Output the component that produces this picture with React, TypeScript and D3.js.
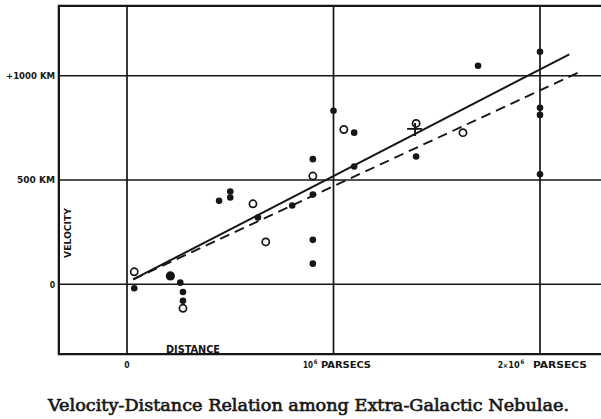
import React from 'react';
import * as d3 from 'd3';

// Individual nebulae (black discs): distance in 10^6 parsecs, velocity in km/s
const distIndiv = [0.035, 0.258, 0.271, 0.271, 0.446, 0.5, 0.5, 0.634, 0.8, 0.9, 0.9, 0.9, 0.9, 1.0, 1.1, 1.1, 1.4, 1.7, 2.0, 2.0, 2.0, 2.0];
const velIndiv = [-19, 8, -37, -79, 400, 445, 416, 320, 378, 430, 600, 213, 99, 832, 727, 565, 613, 1048, 1115, 846, 812, 527];
// overlapping pair drawn as one larger disc
const distDouble = [0.21];
const velDouble = [40];
// Groups (open circles)
const distGroup = [0.035, 0.271, 0.61, 0.672, 0.9, 1.05, 1.4, 1.627];
const velGroup = [60, -115, 386, 203, 519, 742, 771, 727];
// Mean of the 22 nebulae (cross)
const distMean = [1.395];
const velMean = [745];
// Fitted lines: [individual (full), groups (broken)]
const fitSlope = [511, 460];
const fitIntercept = [8, 10];
const fitStart = [0.03, 0.03];
const fitEnd = [2.142, 2.207];

const xTicks = [0, 1, 2];
const yTicks = [0, 500, 1000];
const yTickLabels = ['0', '500 KM', '+1000 KM'];
const xDomainMin = -0.33;
const yDomain = [-335, 1335];

const W = 601;
const H = 419;

export default function App() {
  const x = d3.scaleLinear().domain([0, 2]).range([127, 540]);
  const y = d3.scaleLinear().domain([0, 1000]).range([284.3, 75.7]);
  const left = x(xDomainMin);
  const top = y(yDomain[1]);
  const bottom = y(yDomain[0]);
  const ink = '#161616';
  const line = d3.line<[number, number]>().x(d => x(d[0])).y(d => y(d[1]));
  const sans = '"DejaVu Sans Condensed", "Liberation Sans Narrow", "DejaVu Sans", sans-serif';

  return (
    <svg width={W} height={H} style={{ position: 'absolute', left: 0, top: 0, background: '#fff' }}>
      <rect x={0} y={0} width={W} height={H} fill="#fff" />
      {/* grid */}
      {xTicks.map(t => (
        <line key={'gx' + t} x1={x(t)} x2={x(t)} y1={top} y2={bottom} stroke={ink} strokeWidth={1.7} />
      ))}
      {yTicks.map(t => (
        <line key={'gy' + t} x1={left} x2={W} y1={y(t)} y2={y(t)} stroke={ink} strokeWidth={1.6} />
      ))}
      {/* frame */}
      <path d={`M${W},${top}H${left}V${bottom}H${W}`} fill="none" stroke={ink} strokeWidth={2.3} />

      {/* fit lines */}
      {fitSlope.map((k, i) => (
        <path
          key={'fit' + i}
          d={line([
            [fitStart[i], fitIntercept[i] + k * fitStart[i]],
            [fitEnd[i], fitIntercept[i] + k * fitEnd[i]],
          ]) || ''}
          fill="none"
          stroke={ink}
          strokeWidth={i === 0 ? 2 : 1.9}
          strokeDasharray={i === 0 ? undefined : '10,6'}
        />
      ))}

      {/* points */}
      {distIndiv.map((d, i) => (
        <circle key={'p' + i} cx={x(d)} cy={y(velIndiv[i])} r={3.3} fill={ink} />
      ))}
      {distDouble.map((d, i) => (
        <circle key={'pd' + i} cx={x(d)} cy={y(velDouble[i])} r={4.6} fill={ink} />
      ))}
      {distGroup.map((d, i) => (
        <circle key={'g' + i} cx={x(d)} cy={y(velGroup[i])} r={3.6} fill="#fff" stroke={ink} strokeWidth={1.7} />
      ))}
      {distMean.map((d, i) => (
        <path
          key={'m' + i}
          d={`M${x(d) - 8},${y(velMean[i])}H${x(d) + 7}M${x(d)},${y(velMean[i]) - 6}V${y(velMean[i]) + 7}`}
          stroke={ink}
          strokeWidth={1.9}
          fill="none"
        />
      ))}

      {/* y tick labels */}
      {yTicks.map((t, i) => (
        <text
          key={'yl' + t}
          x={55}
          y={y(t) + 3.2}
          textAnchor="end"
          fontFamily={sans}
          fontWeight="bold"
          fontSize={8.5}
          fill={ink}
          textLength={i === 0 ? undefined : i === 1 ? 38 : 49}
          lengthAdjust="spacingAndGlyphs"
        >
          {yTickLabels[i]}
        </text>
      ))}
      <text
        transform={`translate(70.7,233) rotate(-90)`}
        textAnchor="middle"
        fontFamily={sans}
        fontWeight="bold"
        fontSize={9.5}
        fill={ink}
        textLength={50}
        lengthAdjust="spacingAndGlyphs"
      >
        VELOCITY
      </text>
      <text x={166} y={352.7} fontFamily={sans} fontWeight="bold" fontSize={10} fill={ink} textLength={54} lengthAdjust="spacingAndGlyphs">
        DISTANCE
      </text>

      {/* x tick labels */}
      <text x={x(xTicks[0])} y={367.7} textAnchor="middle" fontFamily={sans} fontWeight="bold" fontSize={8.5} fill={ink}>
        0
      </text>
      <text y={367.7} fontFamily={sans} fontWeight="bold" fontSize={8.5} fill={ink}>
        <tspan x={303} textLength={10} lengthAdjust="spacingAndGlyphs">10</tspan>
        <tspan dy={-3.5} dx={0.8} fontSize={6}>6</tspan>
        <tspan x={321} dy={3.5} textLength={50} lengthAdjust="spacingAndGlyphs">PARSECS</tspan>
      </text>
      <text y={367.7} fontFamily={sans} fontWeight="bold" fontSize={8.5} fill={ink}>
        <tspan x={497.7}>2</tspan>
        <tspan x={502.7} fontSize={7}>×</tspan>
        <tspan x={508.3} textLength={11.5} lengthAdjust="spacingAndGlyphs">10</tspan>
        <tspan dy={-3.5} dx={0.8} fontSize={6}>6</tspan>
        <tspan x={533} dy={3.5} textLength={54} lengthAdjust="spacingAndGlyphs">PARSECS</tspan>
      </text>

      {/* title */}
      <text
        x={48}
        y={410.7}
        fontFamily='"DejaVu Serif", "Liberation Serif", serif'
        fontSize={16}
        fill={ink}
        stroke={ink}
        strokeWidth={0.6}
        textLength={521}
        lengthAdjust="spacingAndGlyphs"
      >
        Velocity-Distance Relation among Extra-Galactic Nebulae.
      </text>
    </svg>
  );
}
